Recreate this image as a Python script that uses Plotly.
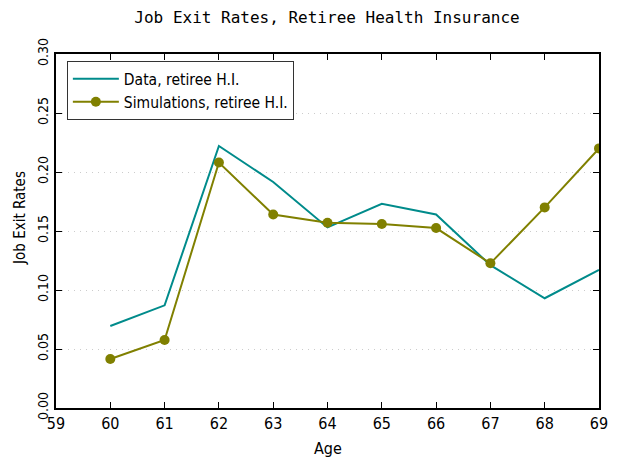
import plotly.graph_objs as go

# values
ages = [60, 61, 62, 63, 64, 65, 66, 67, 68, 69]
data_rates = [0.0695, 0.087, 0.222, 0.1915, 0.153, 0.173, 0.164, 0.121, 0.093, 0.117]
sim_rates = [0.0415, 0.0576, 0.208, 0.164, 0.157, 0.156, 0.1525, 0.1226, 0.170, 0.220]

x_ticks = list(range(59, 70))
y_ticks = [0.0, 0.05, 0.10, 0.15, 0.20, 0.25, 0.30]

NARROW = "Liberation Sans Narrow, DejaVu Sans Condensed, sans-serif"
MONO = "DejaVu Sans Mono, monospace"

traces = [
    go.Scatter(x=ages, y=data_rates, mode='lines', name='Data, retiree H.I.',
               line=dict(color='#008b8b', width=2)),
    go.Scatter(x=ages, y=sim_rates, mode='lines+markers', name='Simulations, retiree H.I.',
               line=dict(color='#808000', width=2),
               marker=dict(color='#808000', size=10)),
]

# the page body adds an 8px margin, so the figure is a bit smaller than the window
layout = go.Layout(
    width=610, height=453,
    margin=dict(l=48, r=19, t=46, b=53),
    paper_bgcolor='white', plot_bgcolor='white',
    font=dict(family=NARROW, size=15, color='black'),
    title=dict(text='Job Exit Rates, Retiree Health Insurance', x=(327 - 8) / 610, xanchor='center',
               y=0.979, yanchor='middle', automargin=False, font=dict(family=MONO, size=16)),
    xaxis=dict(range=[59, 69],
               tickvals=x_ticks, ticktext=[str(v) for v in x_ticks],
               ticks='inside', ticklen=6, tickwidth=1, tickcolor='black',
               showline=True, linewidth=2, linecolor='black', mirror='ticks',
               showgrid=False, zeroline=False, automargin=False,
               tickfont=dict(size=16)),
    yaxis=dict(range=[0, 0.30],
               tickvals=y_ticks, ticktext=['%.2f' % v for v in y_ticks], tickangle=-90,
               ticks='inside', ticklen=6, tickwidth=1, tickcolor='black',
               showline=True, linewidth=2, linecolor='black', mirror='ticks',
               showgrid=True, gridcolor='#cccccc', griddash='1px,5px', gridwidth=1,
               zeroline=False, automargin=False, tickfont=dict(size=14)),
    annotations=[
        dict(text='Age', xref='paper', yref='paper', x=0.5, y=-0.113,
             xanchor='center', yanchor='middle', showarrow=False, font=dict(size=16)),
        dict(text='Job Exit Rates', xref='paper', yref='paper', x=-0.0663, y=0.537,
             xanchor='center', yanchor='middle', textangle=-90, showarrow=False,
             font=dict(size=15)),
    ],
    legend=dict(x=0.02, y=0.98, xanchor='left', yanchor='top',
                bgcolor='white', bordercolor='#333333', borderwidth=1,
                font=dict(family=NARROW, size=15.5), itemwidth=46, tracegroupgap=0),
    showlegend=True,
)

fig = go.Figure(data=traces, layout=layout)
fig.write_html("out.html")
